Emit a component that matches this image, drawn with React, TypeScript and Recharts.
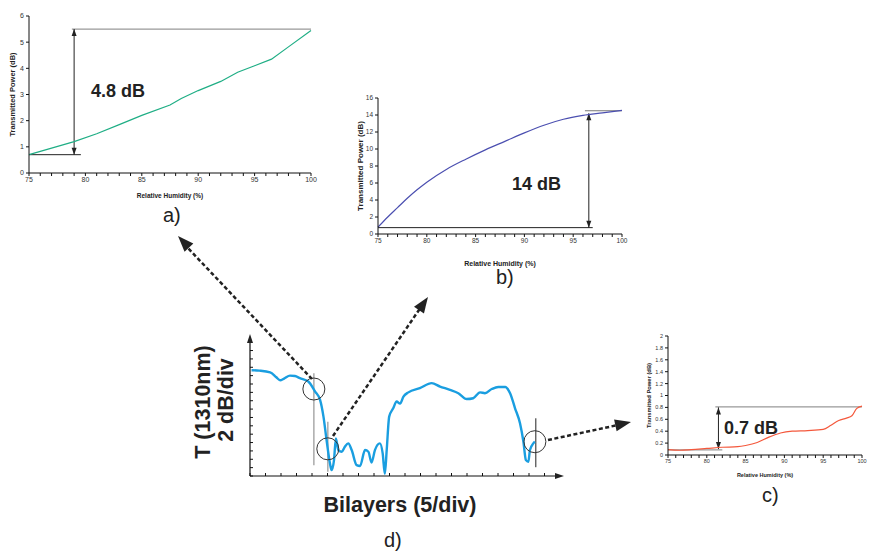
import React from "react";
import {
  LineChart,
  Line,
  XAxis,
  YAxis,
  ReferenceLine,
  ReferenceDot,
} from "recharts";

// a) humidity response, thin film
const rhA = [75, 77, 79, 81, 83, 85, 87.5, 88.5, 90, 92, 93.5, 95, 96.5, 98, 100];
const tpA = [0.7, 0.95, 1.2, 1.5, 1.85, 2.2, 2.6, 2.85, 3.15, 3.5, 3.85, 4.1, 4.35, 4.82, 5.45];

// b) humidity response, resonance region
const rhB = [75, 76, 77, 78, 79, 80, 82, 84, 86, 88, 90, 92, 94, 96, 98, 100];
const tpB = [0.8, 2.0, 3.1, 4.2, 5.2, 6.1, 7.6, 8.8, 9.9, 10.9, 11.9, 12.8, 13.5, 13.95, 14.25, 14.55];

// c) humidity response, thick film
const rhC = [75, 76.5, 78, 80, 82, 84, 85, 86.5, 88, 89.5, 91, 93, 95, 96, 97, 98, 98.7, 99.3, 100];
const tpC = [0.09, 0.08, 0.09, 0.11, 0.13, 0.14, 0.16, 0.21, 0.3, 0.37, 0.4, 0.41, 0.43, 0.5, 0.58, 0.62, 0.66, 0.78, 0.82];

// d) transmission vs number of bilayers
const bilayers = [
  0.5, 3, 6.5, 8.5, 9.7, 11, 12.9, 14.5, 16.1, 18.8, 21.0, 22.6, 23.7, 24.7, 25.8, 26.3,
  27.1, 27.7, 28.5, 29.6, 30.6, 31.7, 32.8, 34.4, 35.5, 37.1, 38.2, 39.2, 40.3, 41.9,
  42.8, 43.5, 44.1, 44.9, 46.2, 47.3, 48.4, 49.5, 51.1, 54.8, 58.6, 61.3, 64.5, 67.2,
  69.9, 72.0, 74.2, 75.8, 78.0, 80.1, 82.3, 83.9, 85.5, 87.1, 88.2, 89.0, 89.8, 90.3,
  91.4, 91.9,
];
const transmission = [
  25.3, 25.2, 24.8, 23.6, 22.9, 23.3, 24.0, 23.9, 23.4, 22.6, 20.2, 18.2, 14.2, 8.6, 3.0, 1.4,
  3.8, 9.0, 6.2, 5.8, 7.0, 7.8, 6.2, 2.6, 2.4, 6.2, 5.8, 3.2, 6.2, 7.8,
  5.4, 0.5, 6.2, 14.2, 16.2, 17.8, 17.3, 19.0, 20.0, 21.0, 22.2, 21.4, 20.6, 19.8,
  18.4, 18.6, 20.0, 19.8, 20.8, 21.3, 21.3, 19.8, 16.2, 12.6, 8.2, 3.8, 3.4, 6.2,
  7.8, 8.2,
];

// ticks
const rhTicks = Array.from({ length: 26 }, (_, i) => 75 + i);
const ticksA = [0, 1, 2, 3, 4, 5, 6];
const ticksB = [0, 2, 4, 6, 8, 10, 12, 14, 16];
const ticksC = [0, 0.2, 0.4, 0.6, 0.8, 1, 1.2, 1.4, 1.6, 1.8, 2];
const ticksDx = Array.from({ length: 20 }, (_, i) => i * 5);
const ticksDy = Array.from({ length: 16 }, (_, i) => i * 2);

const zip = (xs: number[], ys: number[]) => xs.map((x, i) => ({ x, y: ys[i] }));
const dataA = zip(rhA, tpA);
const dataB = zip(rhB, tpB);
const dataC = zip(rhC, tpC);
const dataD = zip(bilayers, transmission);

const FONT = "'Liberation Sans', Arial, Helvetica, sans-serif";
const INK = "#222";

function head(tx: number, ty: number, fx: number, fy: number, len: number, w: number) {
  const dx = tx - fx;
  const dy = ty - fy;
  const d = Math.hypot(dx, dy) || 1;
  const ux = dx / d;
  const uy = dy / d;
  const bx = tx - ux * len;
  const by = ty - uy * len;
  const px = (-uy * w) / 2;
  const py = (ux * w) / 2;
  return `${tx},${ty} ${bx + px},${by + py} ${bx - px},${by - py}`;
}

// double headed measuring arrow used in the small plots
const doubleArrow = (p: any) => {
  const { x1, y1, x2, y2 } = p;
  return (
    <g>
      <line x1={x1} y1={y1} x2={x2} y2={y2} stroke={INK} strokeWidth={1} />
      <polygon points={head(x1, y1, x2, y2, 7, 5)} fill={INK} />
      <polygon points={head(x2, y2, x1, y1, 7, 5)} fill={INK} />
    </g>
  );
};

// inward tick marks for panel d
const inTickX = (p: any) => <line x1={p.x} y1={p.y} x2={p.x} y2={p.y - 3} stroke="#111" />;

const rhFmt = (v: number) => (v % 5 === 0 ? String(v) : "");

type PanelProps = {
  data: { x: number; y: number }[];
  left: number;
  top: number;
  width: number;
  height: number;
  margin: { top: number; right: number; bottom: number; left: number };
  yWidth: number;
  xHeight: number;
  yTicks: number[];
  yMax: number;
  color: string;
  curve: "linear" | "monotone";
  tickFont: number;
  yTitleFont: number;
  xTitleFont: number;
  yTitleOffset: number;
  xTitleOffset: number;
  children?: React.ReactNode;
};

function HumidityPanel(props: PanelProps) {
  const tickStyle = { fontSize: props.tickFont, fill: "#333", fontFamily: FONT };
  return (
    <div style={{ position: "absolute", left: props.left, top: props.top }}>
      <LineChart width={props.width} height={props.height} data={props.data} margin={props.margin}>
        <XAxis
          dataKey="x"
          type="number"
          domain={[75, 100]}
          ticks={rhTicks}
          interval={0}
          tickFormatter={rhFmt}
          height={props.xHeight}
          tick={tickStyle}
          tickSize={3}
          tickMargin={1}
          stroke="#111"
          label={{
            value: "Relative Humidity (%)",
            position: "insideBottom",
            offset: props.xTitleOffset,
            style: { fontSize: props.xTitleFont, fontWeight: "bold", fill: INK, fontFamily: FONT },
          }}
        />
        <YAxis
          type="number"
          domain={[0, props.yMax]}
          ticks={props.yTicks}
          interval={0}
          width={props.yWidth}
          tick={tickStyle}
          tickSize={3}
          tickMargin={2}
          stroke="#111"
          label={{
            value: "Transmitted Power (dB)",
            angle: -90,
            position: "insideLeft",
            offset: props.yTitleOffset,
            style: {
              fontSize: props.yTitleFont,
              fontWeight: "bold",
              fill: INK,
              fontFamily: FONT,
              textAnchor: "middle",
            },
          }}
        />
        {props.children}
        <Line
          dataKey="y"
          type={props.curve}
          stroke={props.color}
          strokeWidth={1.2}
          dot={false}
          isAnimationActive={false}
        />
      </LineChart>
    </div>
  );
}

export default function App() {
  const bold = { fontFamily: FONT, fontWeight: "bold" as const, fill: INK };
  return (
    <div
      style={{
        position: "absolute",
        left: 0,
        top: 0,
        width: 869,
        height: 552,
        background: "#fff",
        overflow: "hidden",
        fontFamily: FONT,
      }}
    >
      {/* a) */}
      <HumidityPanel
        data={dataA}
        left={0}
        top={0}
        width={320}
        height={205}
        margin={{ top: 16, right: 9, bottom: 5, left: 0 }}
        yWidth={29}
        xHeight={27}
        yTicks={ticksA}
        yMax={6}
        color="#1fae85"
        curve="linear"
        tickFont={7}
        yTitleFont={7.5}
        xTitleFont={6.5}
        yTitleOffset={12}
        xTitleOffset={2}
      >
        <ReferenceLine segment={[{ x: 78.8, y: 5.5 }, { x: 100, y: 5.5 }]} stroke="#999" strokeWidth={1.2} />
        <ReferenceLine segment={[{ x: 75, y: 0.7 }, { x: 79.6, y: 0.7 }]} stroke={INK} strokeWidth={1} />
        <ReferenceLine segment={[{ x: 79, y: 0.7 }, { x: 79, y: 5.5 }]} shape={doubleArrow} />
      </HumidityPanel>

      {/* b) */}
      <HumidityPanel
        data={dataB}
        left={340}
        top={85}
        width={290}
        height={185}
        margin={{ top: 13, right: 8, bottom: 3, left: 0 }}
        yWidth={38}
        xHeight={33}
        yTicks={ticksB}
        yMax={16}
        color="#4b4fb0"
        curve="monotone"
        tickFont={6.5}
        yTitleFont={8}
        xTitleFont={7}
        yTitleOffset={20}
        xTitleOffset={1}
      >
        <ReferenceLine segment={[{ x: 75, y: 0.75 }, { x: 97, y: 0.75 }]} stroke={INK} strokeWidth={1} />
        <ReferenceLine segment={[{ x: 96.2, y: 14.5 }, { x: 100, y: 14.5 }]} stroke="#777" strokeWidth={1} />
        <ReferenceLine segment={[{ x: 96.6, y: 0.75 }, { x: 96.6, y: 14.2 }]} shape={doubleArrow} />
      </HumidityPanel>

      {/* c) */}
      <HumidityPanel
        data={dataC}
        left={625}
        top={325}
        width={244}
        height={155}
        margin={{ top: 11, right: 7, bottom: 3, left: 0 }}
        yWidth={43}
        xHeight={22}
        yTicks={ticksC}
        yMax={2}
        color="#f4583c"
        curve="monotone"
        tickFont={5.5}
        yTitleFont={5.8}
        xTitleFont={5.5}
        yTitleOffset={24}
        xTitleOffset={0}
      >
        <ReferenceLine segment={[{ x: 81.1, y: 0.81 }, { x: 100, y: 0.81 }]} stroke="#999" strokeWidth={1.2} />
        <ReferenceLine segment={[{ x: 75, y: 0.085 }, { x: 82, y: 0.085 }]} stroke="#999" strokeWidth={1.2} />
        <ReferenceLine segment={[{ x: 81.5, y: 0.1 }, { x: 81.5, y: 0.8 }]} shape={doubleArrow} />
      </HumidityPanel>

      {/* d) */}
      <div style={{ position: "absolute", left: 240, top: 330 }}>
        <LineChart width={330} height={160} data={dataD} margin={{ top: 8, right: 10, bottom: 4, left: 10 }}>
          <XAxis
            dataKey="x"
            type="number"
            domain={[0, 100]}
            ticks={ticksDx}
            interval={0}
            height={10}
            tick={inTickX}
            tickLine={false}
            tickSize={0}
            tickMargin={0}
            axisLine={false}
          />
          <YAxis
            type="number"
            domain={[0, 33]}
            ticks={ticksDy}
            interval={0}
            width={10}
            tickFormatter={() => ""}
            orientation="left"
            mirror
            tickSize={3}
            axisLine={false}
            stroke="#111"
          />
          <ReferenceLine segment={[{ x: 20.6, y: 24.6 }, { x: 20.6, y: 2.6 }]} stroke="#aaa" strokeWidth={1.5} />
          <ReferenceLine segment={[{ x: 25.1, y: 13 }, { x: 25.1, y: 1 }]} stroke="#aaa" strokeWidth={1.5} />
          <ReferenceLine segment={[{ x: 92.2, y: 13.8 }, { x: 92.2, y: 2.1 }]} stroke={INK} strokeWidth={1} />
          <Line
            dataKey="y"
            type="monotone"
            stroke="#1a9ee0"
            strokeWidth={2.4}
            dot={false}
            isAnimationActive={false}
          />
          <ReferenceDot x={20.6} y={20.8} r={11} fill="none" stroke="#333" strokeWidth={1} />
          <ReferenceDot x={25.1} y={6.5} r={11} fill="none" stroke="#333" strokeWidth={1} />
          <ReferenceDot x={91.9} y={8.2} r={11} fill="none" stroke="#333" strokeWidth={1} />
        </LineChart>
      </div>

      {/* figure annotations */}
      <svg
        width={869}
        height={552}
        style={{ position: "absolute", left: 0, top: 0, pointerEvents: "none" }}
      >
        {/* d) axis lines with arrow tips */}
        <line x1={250} y1={476} x2={250} y2={340} stroke="#111" strokeWidth={1.2} />
        <line x1={250} y1={476} x2={558} y2={476} stroke="#111" strokeWidth={1.2} />
        <polygon points={head(250, 334, 250, 350, 9, 6)} fill={INK} />
        <polygon points={head(564, 476, 548, 476, 9, 6)} fill={INK} />

        <text x={91} y={97} fontSize={18} {...bold}>4.8 dB</text>
        <text x={512} y={190} fontSize={18} {...bold}>14 dB</text>
        <text x={724} y={434} fontSize={18} {...bold}>0.7 dB</text>

        <text x={163} y={222} fontSize={20} fill={INK} fontFamily={FONT}>a)</text>
        <text x={496} y={284} fontSize={20} fill={INK} fontFamily={FONT}>b)</text>
        <text x={762} y={502} fontSize={20} fill={INK} fontFamily={FONT}>c)</text>
        <text x={384} y={547} fontSize={20} fill={INK} fontFamily={FONT}>d)</text>

        <text x={400} y={512} fontSize={21.5} textAnchor="middle" {...bold}>Bilayers (5/div)</text>
        <text
          x={0}
          y={0}
          fontSize={21.5}
          textAnchor="middle"
          transform="translate(210,402) rotate(-90)"
          {...bold}
        >
          T (1310nm)
        </text>
        <text
          x={0}
          y={0}
          fontSize={21.5}
          textAnchor="middle"
          transform="translate(233,400) rotate(-90)"
          {...bold}
        >
          2 dB/div
        </text>

        <g stroke={INK} strokeWidth={2.5} strokeDasharray="4 2.5" fill="none">
          <line x1={312} y1={379} x2={186} y2={246} />
          <line x1={333} y1={436} x2={421} y2={307} />
          <line x1={548} y1={440} x2={618} y2={425} />
        </g>
        <polygon points={head(178, 236, 312, 379, 16, 12)} fill={INK} />
        <polygon points={head(428, 297, 333, 436, 16, 12)} fill={INK} />
        <polygon points={head(631, 422, 548, 440, 16, 12)} fill={INK} />
      </svg>
    </div>
  );
}
